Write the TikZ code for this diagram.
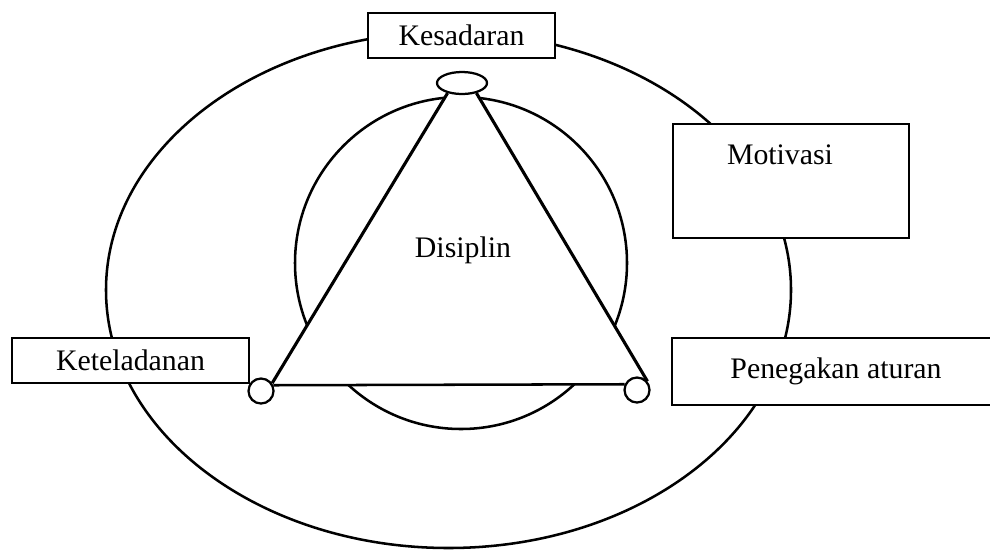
\documentclass[tikz,border=0pt]{standalone}
\usepackage{fontspec}
\setmainfont{Liberation Serif}
\usetikzlibrary{shapes.geometric,backgrounds}
\begin{document}
\begin{tikzpicture}[x={(0.0125cm,0cm)},y={(0cm,-0.0125cm)},
        label/.style={font=\fontsize{10.6pt}{12pt}\selectfont},
        box/.style={draw,line width=0.9pt,fill=white,inner sep=0pt,label},
        joint/.style={draw,line width=0.8pt,fill=white,inner sep=0pt},
        edge/.style={line width=1.1pt}]
        \useasboundingbox (0,0) rectangle (990,550);
        \node[box,minimum width=2.3375cm,minimum height=0.5625cm] (kesadaran) at (461.5,35.5) {Kesadaran};
        \node[box,minimum width=2.95cm,minimum height=1.425cm] (motivasi) at (791,181) {};
        \node[label] (motivasitext) at (780,155) {Motivasi};
        \node[box,minimum width=2.9625cm,minimum height=0.5625cm] (keteladanan) at (130.5,360.5) {Keteladanan};
        \node[box,minimum width=4.1cm,minimum height=0.8375cm] (penegakan) at (836,371.5) {Penegakan aturan};
        \node[joint,ellipse,minimum width=0.625cm,minimum height=0.275cm] (puncak) at (462,83) {};
        \node[joint,circle,minimum size=0.3125cm] (kiri) at (261,391) {};
        \node[joint,circle,minimum size=0.3125cm] (kanan) at (637,390) {};
        \node[label] (disiplin) at (463,250) {Disiplin};
        \draw[edge] (puncak.215) -- (kiri.35);
        \draw[edge] (puncak.-35) -- (kanan.40);
        \draw[line width=0.9pt] (kiri.25) -- (kanan.155);
        % lingkaran di belakang, segitiga menutupinya
        \begin{scope}[on background layer]
        \draw[line width=0.9pt] (448.5,290) ellipse [x radius=342.5,y radius=258];
        \draw[line width=0.9pt] (461,263) circle [radius=166];
        \fill[white] (puncak.215) -- (kiri.35) -- (kiri.25) -- (kanan.155) -- (kanan.40) -- (puncak.-35) -- cycle;
        \end{scope}
        \end{tikzpicture}
\end{document}
